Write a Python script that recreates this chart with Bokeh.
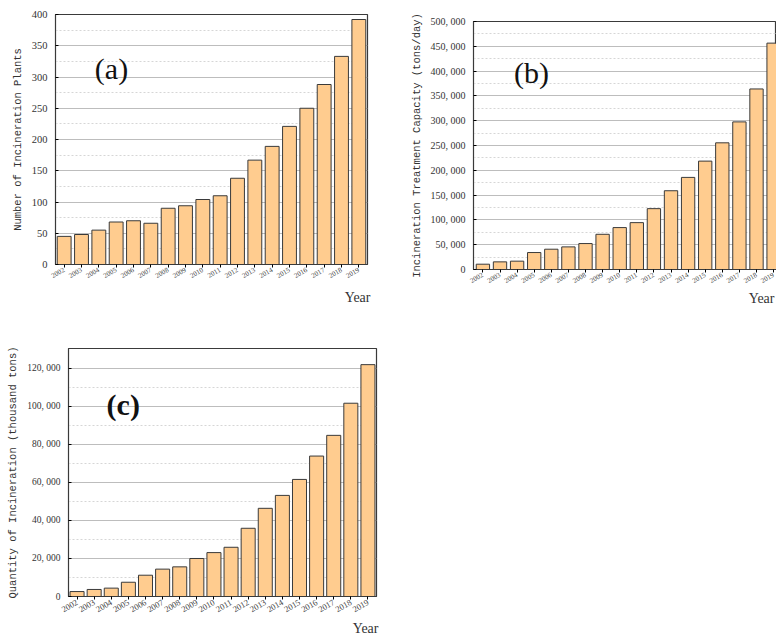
import math
from bokeh.plotting import figure
from bokeh.models import FixedTicker, Label, Range1d, ColumnDataSource, Title, Spacer
from bokeh.layouts import column, row
from bokeh.embed import file_html
from bokeh.resources import INLINE

years = list(range(2002, 2020))
plants = [45, 48, 55, 68, 70, 66, 90, 94, 104, 110, 138, 167, 189, 221, 250, 288, 333, 392]
capacity = [10700, 15400, 16800, 34200, 40900, 45600, 52300, 71000, 84500, 94500,
            122700, 158800, 185700, 218500, 255400, 297600, 364000, 456400]
quantity = [2600, 3700, 4400, 7500, 11200, 14400, 15600, 20000, 23100, 25900,
            35900, 46400, 53200, 61600, 73900, 84800, 101700, 122000]

a_ticks = [0, 50, 100, 150, 200, 250, 300, 350, 400]
a_tick_labels = ["0", "50", "100", "150", "200", "250", "300", "350", "400"]
a_minor = [25, 75, 125, 175, 225, 275, 325, 375]
b_ticks = [0, 50000, 100000, 150000, 200000, 250000, 300000, 350000, 400000, 450000, 500000]
b_tick_labels = ["0", "50, 000", "100, 000", "150, 000", "200, 000", "250, 000",
                 "300, 000", "350, 000", "400, 000", "450, 000", "500, 000"]
b_minor = [25000, 75000, 125000, 175000, 225000, 275000, 325000, 375000, 425000, 475000]
c_ticks = [0, 20000, 40000, 60000, 80000, 100000, 120000]
c_tick_labels = ["0", "20, 000", "40, 000", "60, 000", "80, 000", "100, 000", "120, 000"]
c_minor = [10000, 30000, 50000, 70000, 90000, 110000]

SERIF = "Liberation Serif"
MONO = "Liberation Mono"
BAR_FILL = "#FFCC8F"
DARK = "#3a3a3a"


def panel(values, ticks, tick_labels, minor, y_end, ylabel, tag, tag_xy, tag_bold,
          year_offset, year_standoff, x_start, x_end, size, borders, bar_w,
          ytick_size, xtick_size):
    w, h = size
    bl, br, bt, bb = borders
    p = figure(width=w, height=h,
               min_border_left=bl, min_border_right=br,
               min_border_top=bt, min_border_bottom=bb,
               x_range=Range1d(x_start, x_end), y_range=Range1d(0, y_end),
               output_backend="svg", toolbar_location=None)
    src = ColumnDataSource(dict(year=years, value=values))
    p.vbar(x="year", top="value", width=bar_w, source=src,
           fill_color=BAR_FILL, line_color=DARK, line_width=1)

    p.background_fill_color = "white"
    p.border_fill_color = "white"
    p.outline_line_color = DARK
    p.outline_line_width = 1.2

    p.xgrid.grid_line_color = None
    p.ygrid.grid_line_color = "#bdbdbd"
    p.ygrid.grid_line_width = 1
    p.ygrid.minor_grid_line_color = "#d6d6d6"
    p.ygrid.minor_grid_line_dash = "2 2"

    p.yaxis.ticker = FixedTicker(ticks=ticks, minor_ticks=minor)
    p.yaxis.major_label_overrides = {t: s for t, s in zip(ticks, tick_labels)}
    p.yaxis.major_tick_in = 3
    p.yaxis.major_tick_out = 0
    p.yaxis.minor_tick_line_color = None
    p.yaxis.major_label_text_font = SERIF
    p.yaxis.major_label_text_font_size = ytick_size
    p.yaxis.major_label_text_color = "#333333"
    p.yaxis.major_label_standoff = 4
    p.yaxis.axis_label = ylabel
    p.yaxis.axis_label_text_font = MONO
    p.yaxis.axis_label_text_font_size = "10.5px"
    p.yaxis.axis_label_text_font_style = "normal"
    p.yaxis.axis_label_text_color = "#333333"
    p.yaxis.axis_label_standoff = 5
    p.yaxis.axis_line_color = DARK

    p.xaxis.ticker = FixedTicker(ticks=years)
    p.xaxis.major_label_orientation = math.pi / 6
    p.xaxis.major_label_text_font = SERIF
    p.xaxis.major_label_text_font_size = xtick_size
    p.xaxis.major_label_text_color = "#444444"
    p.xaxis.major_label_standoff = 2
    p.xaxis.major_tick_in = 0
    p.xaxis.major_tick_out = 3
    p.xaxis.minor_tick_line_color = None
    p.xaxis.axis_line_color = DARK

    p.add_layout(Label(x=tag_xy[0], y=tag_xy[1], text=tag, text_font=SERIF,
                       text_font_size="30px", text_color="#111111",
                       text_font_style="bold" if tag_bold else "normal",
                       text_align="center", text_baseline="middle"))
    p.add_layout(Title(text="Year", align="right", offset=year_offset,
                       standoff=year_standoff, text_font=SERIF,
                       text_font_size="14px", text_color="#333333",
                       text_font_style="normal"), "below")
    return p


pa = panel(plants, a_ticks, a_tick_labels, a_minor, 400,
           "Number of Incineration Plants", "(a)", (2004.73, 313), False,
           -3, 10, 2001.5, 2019.5, (400, 310), (55, 33, 14, 46), 0.8, "10.5px", "7px")

pb = panel(capacity, b_ticks, b_tick_labels, b_minor, 500000,
           "Incineration Treatment Capacity (tons/day)", "(b)", (2004.84, 397000), False,
           2, 3, 2001.45, 2001.45 + 303 / 17.1, (376, 303), (73, 0, 14, 41), 0.78, "10px", "7px")

pc = panel(quantity, c_ticks, c_tick_labels, c_minor, 130500,
           "Quantity of Incineration (thousand tons)", "(c)", (2004.7, 101200), True,
           -2, 1, 2001.5, 2019.5, (400, 326), (68, 24, 38, 39), 0.82, "9.5px", "8.5px")

layout = column(row(pa, column(Spacer(width=376, height=7), pb)), pc)
open("out.html", "w").write(file_html(layout, INLINE))
